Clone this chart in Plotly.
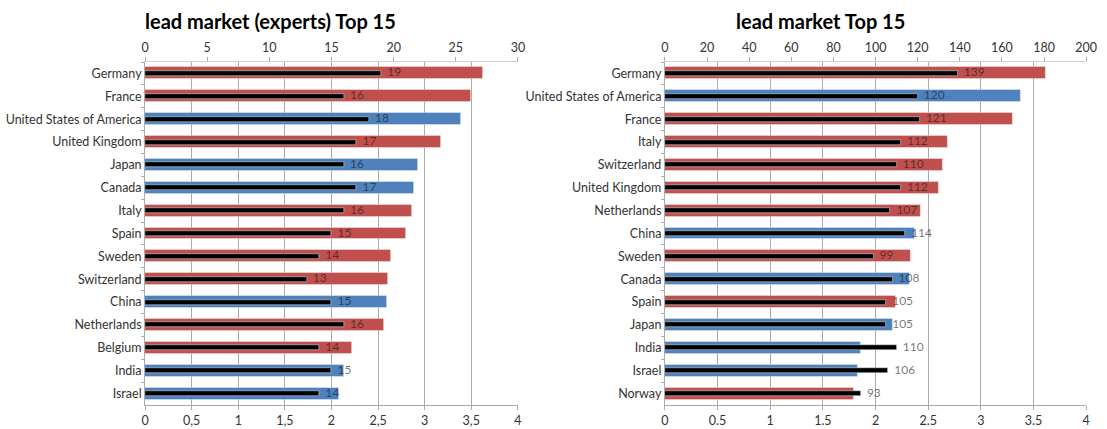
import plotly.graph_objects as go

# ---- data ----
europe = ["Germany", "France", "United Kingdom", "Italy", "Spain", "Sweden",
          "Switzerland", "Netherlands", "Belgium", "Norway"]

left_countries = ["Germany", "France", "United States of America", "United Kingdom",
                  "Japan", "Canada", "Italy", "Spain", "Sweden", "Switzerland",
                  "China", "Netherlands", "Belgium", "India", "Israel"]
left_score = [3.63, 3.50, 3.39, 3.18, 2.93, 2.89, 2.87, 2.80, 2.64, 2.61,
              2.60, 2.56, 2.22, 2.14, 2.08]
left_count = [19, 16, 18, 17, 16, 17, 16, 15, 14, 13, 15, 16, 14, 15, 14]

right_countries = ["Germany", "United States of America", "France", "Italy",
                   "Switzerland", "United Kingdom", "Netherlands", "China", "Sweden",
                   "Canada", "Spain", "Japan", "India", "Israel", "Norway"]
right_score = [3.62, 3.38, 3.30, 2.69, 2.64, 2.60, 2.43, 2.37, 2.34, 2.33,
               2.19, 2.16, 1.86, 1.83, 1.79]
right_count = [139, 120, 121, 112, 110, 112, 107, 114, 99, 108, 105, 105, 110, 106, 93]

score_ticks = [0, 0.5, 1, 1.5, 2, 2.5, 3, 3.5, 4]
left_score_labels = ["0", "0,5", "1", "1,5", "2", "2,5", "3", "3,5", "4"]
right_score_labels = ["0", "0.5", "1", "1.5", "2", "2.5", "3", "3.5", "4"]

RED = "#C0504D"
BLUE = "#4F81BD"
FONT = "Lato"
GRID = "#ABABAB"
LABEL = "rgba(20,20,20,0.6)"


def colors(countries):
    return [RED if c in europe else BLUE for c in countries]


def add_chart(fig, countries, score, count, xb, xt, ya):
    fig.add_trace(go.Bar(
        y=countries, x=score, orientation="h", width=0.52,
        marker=dict(color=colors(countries), line=dict(color="rgba(255,255,255,0.35)", width=1)),
        xaxis=xb, yaxis=ya, showlegend=False,
    ))
    fig.add_trace(go.Bar(
        y=countries, x=count, orientation="h", width=0.22,
        marker=dict(color="black"),
        xaxis=xt, yaxis=ya, showlegend=False,
    ))
    # value labels just right of the black bars
    fig.add_trace(go.Scatter(
        y=countries, x=count, mode="text", text=[f"  {v}" for v in count],
        textposition="middle right", textfont=dict(family=FONT, size=12, color=LABEL),
        cliponaxis=False, xaxis=xt, yaxis=ya, showlegend=False,
    ))


fig = go.Figure()
add_chart(fig, left_countries, left_score, left_count, "x", "x2", "y")
add_chart(fig, right_countries, right_score, right_count, "x3", "x4", "y2")

tickfont = dict(family=FONT, size=12.5, color="#333333")

bottom_axis = dict(range=[0, 4], showgrid=True, gridcolor=GRID, gridwidth=1,
                   zeroline=False, showline=True, linecolor=GRID, ticks="outside",
                   ticklen=4, tickcolor=GRID, tickvals=score_ticks, tickfont=tickfont,
                   fixedrange=True)
top_axis = dict(side="top", showgrid=False, zeroline=False, showline=True,
                linecolor="#D0D0D0", ticks="outside", ticklen=4, tickcolor=GRID,
                tickfont=tickfont, fixedrange=True)
n = len(left_countries)
cat_axis = dict(range=[n - 0.5, -0.5], autorange=False, showline=True, linecolor=GRID,
                ticks="outside", tickson="boundaries", ticklen=3, tickcolor=GRID,
                tickfont=tickfont, showgrid=False, domain=[0, 1], fixedrange=True)

fig.update_layout(
    width=1107, height=429,
    margin=dict(l=0, r=0, t=62, b=24),
    paper_bgcolor="white", plot_bgcolor="white",
    barmode="overlay", bargap=0,
    font=dict(family=FONT),
    xaxis=dict(bottom_axis, domain=[0.1292, 0.4706], anchor="y",
               ticktext=left_score_labels),
    xaxis2=dict(top_axis, overlaying="x", anchor="y", range=[0, 30], dtick=5),
    xaxis3=dict(bottom_axis, domain=[0.6052, 0.9910], anchor="y2",
                ticktext=right_score_labels),
    xaxis4=dict(top_axis, overlaying="x3", anchor="y2", range=[0, 200], dtick=20),
    yaxis=dict(cat_axis, anchor="x"),
    yaxis2=dict(cat_axis, anchor="x3"),
    annotations=[
        dict(text="<b>lead market (experts) Top 15</b>", xref="paper", yref="paper",
             x=0.244, y=1.12, xanchor="center", yanchor="middle", showarrow=False,
             font=dict(family=FONT, size=20, color="black")),
        dict(text="<b>lead market Top 15</b>", xref="paper", yref="paper",
             x=0.748, y=1.12, xanchor="center", yanchor="middle", showarrow=False,
             font=dict(family=FONT, size=20, color="black")),
    ],
)

fig.write_html("out.html", config={"displayModeBar": False},
               post_script="document.body.style.margin='0';document.body.style.overflow='hidden';")
